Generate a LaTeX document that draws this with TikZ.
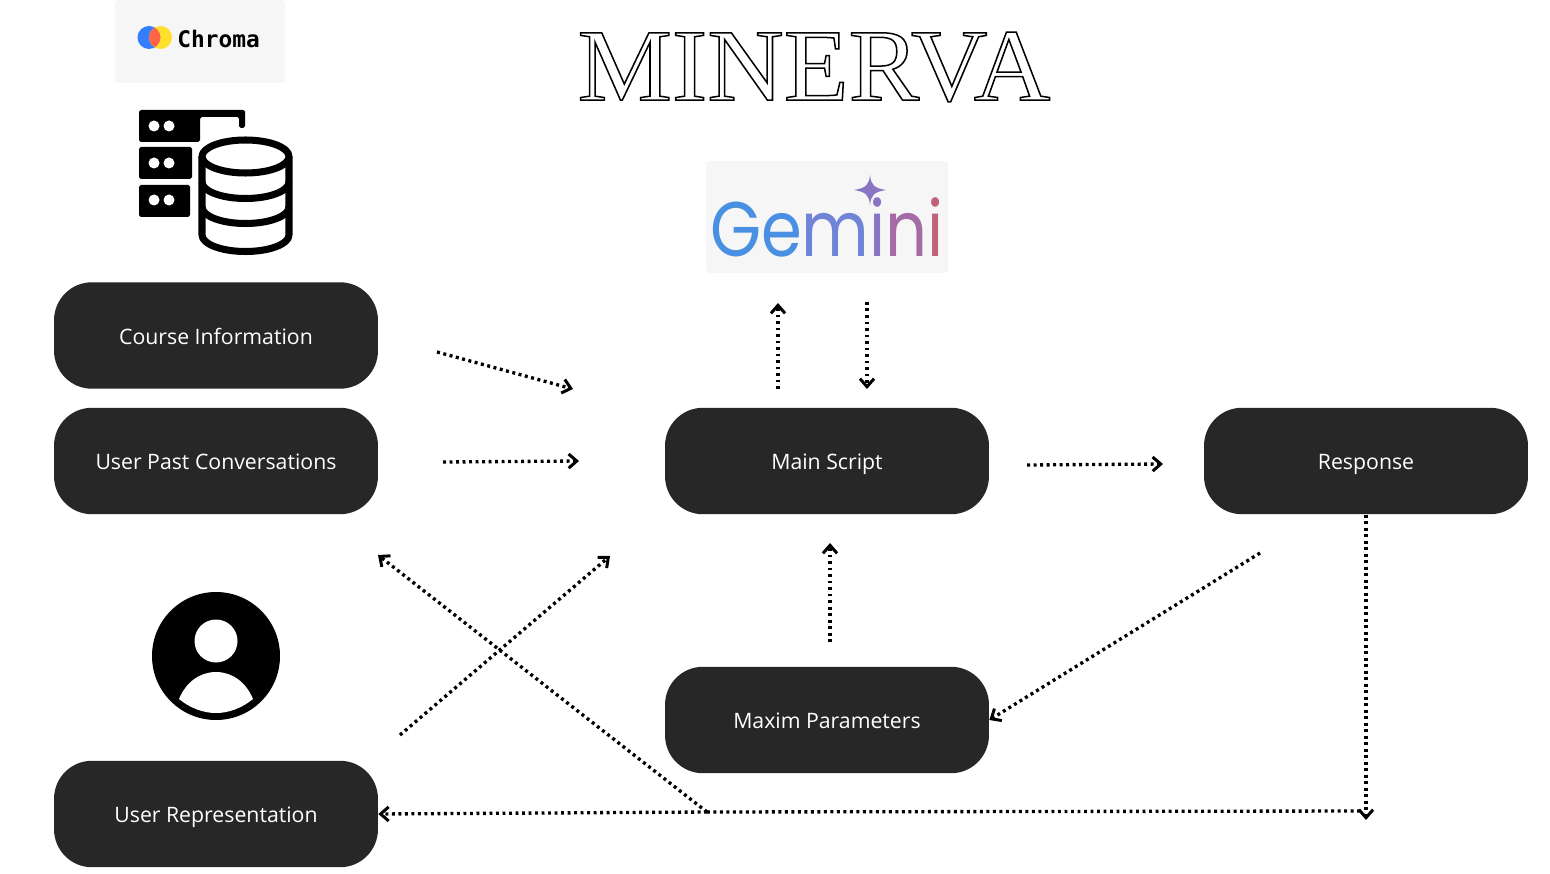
\documentclass[tikz,border=0pt]{standalone}
\usepackage{fontspec}
\setmainfont{Open Sans}
\newfontfamily\titlefont{Liberation Serif}
\newfontfamily\chromafont{DejaVu Sans Mono}
\newfontfamily\geminifont{Poppins}
\usetikzlibrary{positioning, arrows.meta}
\definecolor{pillgray}{HTML}{272727}
\definecolor{logogray}{HTML}{F6F6F6}
\definecolor{chromablue}{HTML}{327EFF}
\definecolor{chromared}{HTML}{FF6446}
\definecolor{chromayellow}{HTML}{FFDE2D}
\definecolor{gemblue}{HTML}{4A90E2}
\definecolor{gemmid}{HTML}{6F84D6}
\definecolor{gempurple}{HTML}{8A75C4}
\definecolor{gemplum}{HTML}{A56BA6}
\definecolor{gemred}{HTML}{C0627A}

\begin{document}
\begin{tikzpicture}[
      x=0.02cm, y=-0.02cm,
      every node/.style={font=\fontsize{12.1}{15}\selectfont},
      pill/.style={fill=pillgray, text=white, rounded corners=0.76cm,
                   minimum width=6.48cm, minimum height=2.13cm, inner sep=0pt,
                   text height=13.2pt, text depth=3pt},
      logobox/.style={fill=logogray, rounded corners=2pt, inner sep=0pt},
      flow/.style={line width=1.9pt, dash pattern=on 1.7pt off 2pt,
                   -{Straight Barb[length=4.6pt, width=8pt, line width=1.7pt]}},
      flowplain/.style={line width=1.9pt, dash pattern=on 1.7pt off 2pt},
      ink/.style={line width=4pt, draw=black, fill=white, line join=round},
    ]
    \useasboundingbox (0,0) rectangle (1550,874);

    % title
    \node[xscale=1.03] (title) at (814,67) {\fontsize{58.6}{60}\selectfont\titlefont
      \special{pdf:code q 1 Tr 0.85 w}MINERVA\special{pdf:code Q}};

    % logos
    \node[logobox, minimum width=3.4cm, minimum height=1.66cm] (chromabox) at (200,41.5) {};
    \begin{scope}
      \fill[chromablue] (149,37.5) circle (11.5);
      \fill[chromayellow] (160.5,37.5) circle (11.5);
      \clip (149,37.5) circle (11.5);
      \fill[chromared] (160.5,37.5) circle (11.5);
    \end{scope}
    \node[font=\fontsize{13}{15}\selectfont\chromafont\bfseries] (chroma) at (218.5,38.5) {Chroma};

    \node[logobox, minimum width=4.84cm, minimum height=2.24cm] (geminibox) at (827,217) {};
    \fill[gempurple] (870,175) .. controls (871,185) and (874,188) .. (886,190)
      .. controls (874,192) and (871,195) .. (870,205)
      .. controls (869,195) and (866,192) .. (854,190)
      .. controls (866,188) and (869,185) .. (870,175) -- cycle;
    \node[font=\fontsize{44}{44}\selectfont\geminifont, xscale=0.85] (gemini) at (827,227)
      {\textcolor{gemblue}{Ge}\textcolor{gemmid}{m}\textcolor{gempurple}{i}\textcolor{gemplum}{n}\textcolor{gemred}{i}};

    % database icon
    \fill[black, rounded corners=1pt] (139,110) -- (245,110) -- (245,128) -- (239,128)
      -- (239,117) -- (200,117) -- (200,142) -- (139,142) -- cycle;
    \fill[black, rounded corners=1pt] (139,147) rectangle (192,179);
    \fill[black, rounded corners=1pt] (139,185) rectangle (190,217);
    \foreach \y in {126,163,200} {
      \fill[white] (154,\y) circle (5.5);
      \fill[white] (169,\y) circle (5.5);
    }
    \draw[ink] (202,156.5) -- (202,235) arc[start angle=180, end angle=0, x radius=43.5, y radius=16.5]
      -- (289,156.5);
    \draw[ink] (245.5,156.5) ellipse [x radius=43.5, y radius=16.5];
    \draw[ink, fill=none] (202,182) arc[start angle=180, end angle=0, x radius=43.5, y radius=16.5];
    \draw[ink, fill=none] (202,207) arc[start angle=180, end angle=0, x radius=43.5, y radius=16.5];

    % user icon
    \fill[black] (216,656) circle (64);
    \fill[white] (216,641) circle (21.5);
    \fill[white] (179,699) .. controls (186,682) and (200,672) .. (216,672)
      .. controls (232,672) and (246,682) .. (253,699)
      .. controls (242,708) and (229,713) .. (216,713)
      .. controls (203,713) and (190,708) .. (179,699) -- cycle;

    % boxes
    \node[pill] (course)   at (216,335.5) {Course Information};
    \node[pill] (past)     at (216,461)   {User Past Conversations};
    \node[pill] (mainscr)  at (827,461)   {Main Script};
    \node[pill] (response) at (1366,461)  {Response};
    \node[pill] (maxim)    at (827,720)   {Maxim Parameters};
    \node[pill] (userrep)  at (216,814)   {User Representation};

    % free ends
    \coordinate (courseout) at (437,352);
    \coordinate (coursein)  at (573,389);
    \coordinate (pastout)   at (443,462);
    \coordinate (pastin)    at (579,461);
    \coordinate (gemup)     at (778,389);
    \coordinate (gemupend)  at (778,303);
    \coordinate (gemdown)   at (867,302);
    \coordinate (gemdownend) at (867,389);
    \coordinate (mainout)   at (1027,465);
    \coordinate (mainoutend) at (1163,464);
    \coordinate (repout)    at (400,735);
    \coordinate (repin)     at (610,556);
    \coordinate (fork)      at (707,812);
    \coordinate (pastback)  at (378,555);
    \coordinate (respout)   at (1260,553);
    \coordinate (maximout)  at (830,642);
    \coordinate (maximin)   at (830,543);
    \coordinate (corner)    at (1366,820);
    \coordinate (cornerend) at (1360,811);

    \draw[flow] (courseout) -- (coursein);
    \draw[flow] (pastout) -- (pastin);
    \draw[flow] (gemup) -- (gemupend);
    \draw[flow] (gemdown) -- (gemdownend);
    \draw[flow] (mainout) -- (mainoutend);
    \draw[flow] (repout) -- (repin);
    \draw[flow] (fork) -- (pastback);
    \draw[flow] (respout) -- (maxim.east);
    \draw[flow] (maximout) -- (maximin);
    \draw[flow] (response.south) -- (corner);
    \draw[flowplain] (cornerend) -- (fork);
    \draw[flow] (fork) -- (userrep.east);
  \end{tikzpicture}
\end{document}
